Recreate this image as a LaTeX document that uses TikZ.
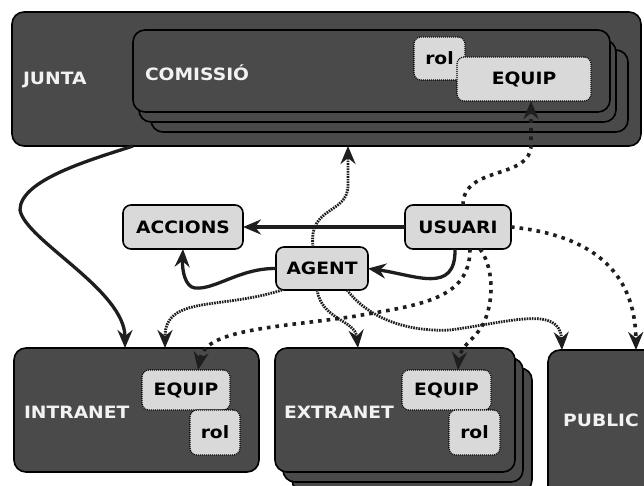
\documentclass[tikz,border=0pt]{standalone}
\usepackage{fontspec}
\setmainfont[FakeStretch=1.1]{DejaVu Sans}
\usetikzlibrary{arrows.meta}
\definecolor{boxdark}{HTML}{4A4A4A}
\definecolor{boxlight}{HTML}{D9D9D9}
\definecolor{ink}{HTML}{1E1E1E}
\definecolor{labelwhite}{HTML}{F2F2F2}

\begin{document}
\begin{tikzpicture}[x=1pt,y=-1pt,
  every node/.style={inner sep=0pt, outer sep=0pt},
  sized/.style 2 args={minimum width=#1pt, minimum height=#2pt},
  darkbox/.style={draw=black, line width=1.6pt, fill=boxdark, rounded corners=12pt},
  lightbox/.style={draw=black, line width=1.6pt, fill=boxlight, rounded corners=8pt,
    text=black, font=\fontsize{17}{20}\selectfont\bfseries},
  tagbox/.style={draw=black, line width=1.2pt, dash pattern=on 1pt off 1pt, fill=boxlight,
    rounded corners=7pt, text=black, font=\fontsize{17}{20}\selectfont\bfseries},
  boxlabel/.style={text=labelwhite, font=\fontsize{17}{20}\selectfont\bfseries, anchor=west},
  linktip/.style={-{Stealth[length=18pt,width=15pt,inset=6pt]}},
  solidlink/.style={linktip, draw=ink, line width=3.3pt},
  agentlink/.style={linktip, draw=ink, line width=2.8pt, dash pattern=on 1.6pt off 1pt},
  userlink/.style={linktip, draw=ink, line width=3.6pt, dash pattern=on 3.6pt off 5pt},
]
\useasboundingbox (0,0) rectangle (644,486);
\clip (0,0) rectangle (644,486);
\fill[white] (0,0) rectangle (644,486);

% JUNTA with the stacked COMISSIÓ inside
\node[darkbox, sized={629}{134}] (junta) at (326.5,79) {};
\node[boxlabel] (juntalbl) at (23,80) {JUNTA};
\node[darkbox, sized={477}{82}] (comC) at (389.5,91) {};
\node[darkbox, sized={477}{82}] (comB) at (377.5,81) {};
\node[darkbox, sized={477}{82}] (com) at (371.5,71) {};
\node[boxlabel] (comlbl) at (145,73) {COMISSIÓ};
\node[tagbox, sized={51}{43}] (rolc) at (439.5,58.5) {rol};
\node[tagbox, sized={134}{44}] (equipc) at (524,79) {EQUIP};

% middle row
\node[lightbox, sized={120}{44}] (accions) at (183,227) {ACCIONS};
\node[lightbox, sized={106}{44}] (usuari) at (458,227) {USUARI};
\node[lightbox, sized={92}{43}] (agent) at (322,268.5) {AGENT};

% INTRANET
\node[darkbox, sized={245}{124}] (intranet) at (136.5,410) {};
\node[boxlabel] (intralbl) at (24,412) {INTRANET};
\node[tagbox, sized={88}{40}] (eqi) at (186,390) {EQUIP};
\node[tagbox, sized={50}{45}] (roli) at (215,432.5) {rol};

% EXTRANET stack
\node[darkbox, sized={240}{124}] (extC) at (412,430) {};
\node[darkbox, sized={240}{124}] (extB) at (403,420) {};
\node[darkbox, sized={240}{124}] (ext) at (395,410) {};
\node[boxlabel] (extlbl) at (284,412) {EXTRANET};
\node[tagbox, sized={89}{40}] (eqe) at (446.5,390) {EQUIP};
\node[tagbox, sized={51}{45}] (role) at (474.5,432.5) {rol};

% PUBLIC
\node[darkbox, sized={112}{150}] (public) at (604,425) {};
\node[text=labelwhite, font=\fontsize{17}{20}\selectfont\bfseries] (publbl) at (601,420) {PUBLIC};

% solid connectors
\draw[solidlink] ([xshift=121pt]junta.south west) .. controls (90,160) and (20,180) .. (20,210)
  .. controls (25,240) and (125,290) .. ([xshift=111pt]intranet.north west);
\draw[solidlink] (usuari.west) -- (accions.east);
\draw[solidlink] ([xshift=-3pt]usuari.south) .. controls (456,295) and (415,275) .. (agent.east);
\draw[solidlink] (agent.west) .. controls (240,268) and (215,290) .. (195,288)
  .. controls (185,287) and (182,270) .. (accions.south);

% AGENT connectors
\draw[agentlink] ([xshift=-9pt]agent.north) .. controls (308,205) and (348,215) .. (348,185)
  -- ([xshift=336pt]junta.south west);
\draw[agentlink] ([xshift=6pt]agent.south west) .. controls (220,310) and (165,295)
  .. ([xshift=151pt]intranet.north west);
\draw[agentlink] ([xshift=-5pt]agent.south) .. controls (322,320) and (355,320)
  .. ([xshift=83pt]ext.north west);
\draw[agentlink] ([xshift=25pt]agent.south) .. controls (370,320) and (410,332) .. (450,330)
  .. controls (510,322) and (560,305) .. ([xshift=14pt]public.north west);

% USUARI connectors
\draw[userlink] ([xshift=5pt]usuari.north) .. controls (463,165) and (531,180) .. (531,145)
  -- ([xshift=7pt]equipc.south);
\draw[userlink] (usuari.east) .. controls (590,235) and (635,270) .. ([xshift=88pt]public.north west);
\draw[userlink] ([xshift=12pt]usuari.south) .. controls (470,300) and (420,305) .. (350,317)
  .. controls (270,328) and (205,330) .. ([xshift=12pt]eqi.north);
\draw[userlink] ([xshift=22pt]usuari.south) .. controls (492,265) and (495,295) .. (485,320)
  .. controls (478,338) and (460,345) .. ([xshift=11.5pt]eqe.north);
\end{tikzpicture}
\end{document}
